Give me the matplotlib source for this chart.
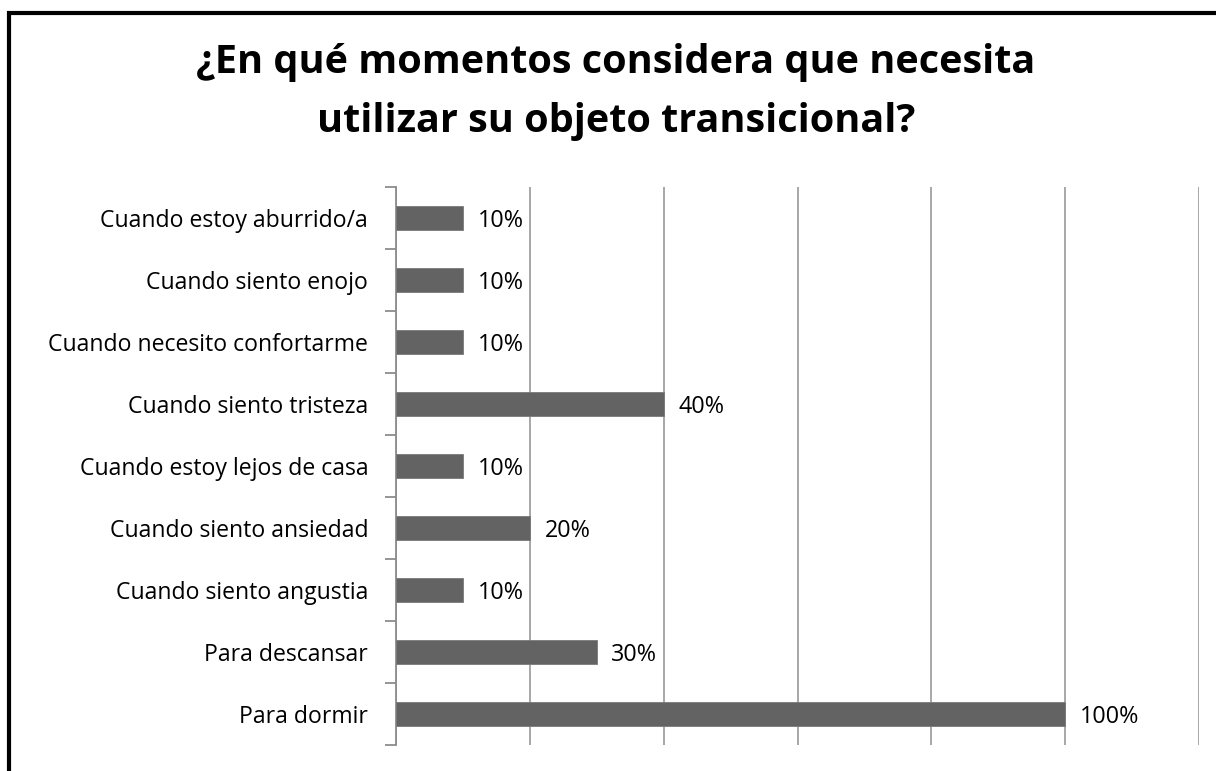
import matplotlib
matplotlib.use("Agg")
import matplotlib.pyplot as plt
from matplotlib.patches import Rectangle

categories = ["Para dormir", "Para descansar", "Cuando siento angustia",
              "Cuando siento ansiedad", "Cuando estoy lejos de casa",
              "Cuando siento tristeza", "Cuando necesito confortarme",
              "Cuando siento enojo", "Cuando estoy aburrido/a"]
values = [100, 30, 10, 20, 10, 40, 10, 10, 10]
title_lines = ["¿En qué momentos considera que necesita",
               "utilizar su objeto transicional?"]

W, H = 1216, 771
fig = plt.figure(figsize=(W/100, H/100), dpi=100)
plt.rcParams['font.family'] = ['Open Sans', 'DejaVu Sans']

# frame around the chart area (cropped at right/bottom)
fig.patches.append(Rectangle((8.5/W, -0.05), 1.2, 1.05 - 13.5/H,
                             transform=fig.transFigure, fill=False,
                             edgecolor='black', linewidth=3))

left, right, top, bottom = 396, 1199, 187, 745
ax = fig.add_axes([left/W, 1-bottom/H, (right-left)/W, (bottom-top)/H])

y = list(range(len(categories)))
ax.barh(y, values, height=0.39, color='#636363', edgecolor='#7a7a7a', linewidth=0.6, zorder=3)
ax.set_xlim(0, 120)
ax.set_ylim(-0.5, len(categories)-0.5)
ax.set_xticks([0, 20, 40, 60, 80, 100, 120])
ax.tick_params(axis='x', length=0, labelbottom=False)
ax.grid(axis='x', color='#a0a0a0', linewidth=1.3, zorder=0)
for s in ['top', 'right', 'bottom']:
    ax.spines[s].set_visible(False)
ax.spines['left'].set_color('#8c8c8c')
ax.spines['left'].set_linewidth(1.3)

ax.set_yticks([i - 0.5 for i in range(len(categories)+1)], minor=False)
ax.set_yticklabels([])
ax.tick_params(axis='y', which='major', length=8, color='#8c8c8c', width=1.3, direction='out')
ax.set_yticks(y, minor=True)
ax.set_yticklabels(categories, minor=True, fontsize=16.6, color='black', va='center_baseline')
ax.tick_params(axis='y', which='minor', length=0, pad=20)

for i, v in enumerate(values):
    ax.annotate(f"{v}%", (v, i), xytext=(10.5, 0), textcoords='offset points',
                va='center_baseline', ha='left', fontsize=16.8, color='black')

fig.text(616/W, 1 - 73/H, title_lines[0], ha='center', va='baseline', fontsize=28.5,
         fontweight='bold')
fig.text(616/W, 1 - 132/H, title_lines[1], ha='center', va='baseline', fontsize=28.5,
         fontweight='bold')

fig.savefig("out.png", dpi=100, facecolor='white')
